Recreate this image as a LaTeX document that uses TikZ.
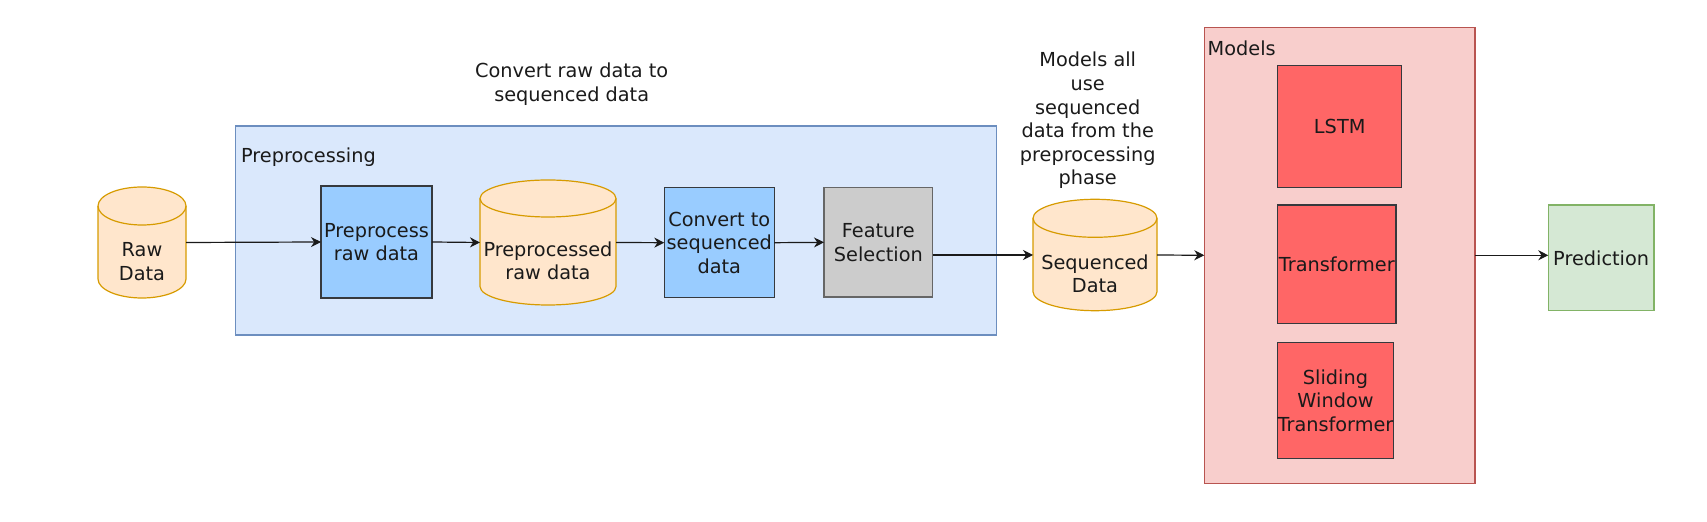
\documentclass[tikz,border=0pt]{standalone}
\usepackage{fontspec}
\setmainfont{DejaVu Sans}
\usetikzlibrary{arrows.meta}
\definecolor{preF}{HTML}{DAE8FC}
\definecolor{preD}{HTML}{6C8EBF}
\definecolor{cylF}{HTML}{FFE6CC}
\definecolor{cylD}{HTML}{D79B00}
\definecolor{blueF}{HTML}{99CCFF}
\definecolor{boxD}{HTML}{36393D}
\definecolor{grayF}{HTML}{CCCCCC}
\definecolor{grayD}{HTML}{666666}
\definecolor{modF}{HTML}{F8CECC}
\definecolor{modD}{HTML}{B85450}
\definecolor{redF}{HTML}{FF6666}
\definecolor{predF}{HTML}{D5E8D4}
\definecolor{predD}{HTML}{82B366}
\definecolor{txtc}{HTML}{1A1A1A}
\definecolor{arrc}{HTML}{1A1A1A}
\tikzset{
  base/.style={inner sep=0pt, outer sep=0pt, line width=0.55pt},
  txt/.style={align=center, text=txtc, font=\fontsize{9.65pt}{11.8pt}\selectfont, inner sep=0pt},
  cyl/.style={fill=cylF, draw=cylD, line width=0.6pt},
  arr/.style={-{Stealth[length=5pt,width=5pt,inset=1.6pt]}, line width=0.6pt, draw=arrc},
  bluebox/.style={base, fill=blueF, draw=boxD},
  graybox/.style={base, fill=grayF, draw=grayD},
  redbox/.style={base, fill=redF, draw=boxD},
  predbox/.style={base, fill=predF, draw=predD, line width=0.8pt},
  precont/.style={base, fill=preF, draw=preD},
  modcont/.style={base, fill=modF, draw=modD},
}
\newcommand{\pxrect}[6]{%
  \pgfmathsetmacro\bxc{(#2+#4)/2}%
  \pgfmathsetmacro\byc{(#3+#5)/2}%
  \pgfmathsetmacro\bw{(#4-#2)/2}%
  \pgfmathsetmacro\bh{(#5-#3)/2}%
  \node[#6, minimum width=\bw pt, minimum height=\bh pt] (#1) at (\bxc,\byc) {};%
}
\newcommand{\pxbox}[7]{%
  \pxrect{#1}{#2}{#3}{#4}{#5}{#6}%
  \node[txt] (#1-t) at (#1.center) {#7};%
}
\newcommand{\dbcyl}[7]{%
  \pgfmathsetmacro\cylrx{(#4-#2)/4}%
  \pgfmathsetmacro\cylry{#6/2}%
  \filldraw[cyl] (#2,#3+#6) -- (#2,#5-#6) arc[start angle=180,end angle=360,x radius=\cylrx pt,y radius=\cylry pt] -- (#4,#3+#6) arc[start angle=0,end angle=180,x radius=\cylrx pt,y radius=\cylry pt] -- cycle;%
  \draw[cyl, fill=none] (#2,#3+#6) arc[start angle=180,end angle=360,x radius=\cylrx pt,y radius=\cylry pt];%
  \pxrect{#1}{#2}{#3}{#4}{#5}{base,draw=none}%
  \pgfmathsetmacro\cylxc{(#2+#4)/2}%
  \pgfmathsetmacro\cylyc{(#3+2*#6+#5)/2}%
  \node[txt] (#1-t) at (\cylxc,\cylyc) {#7};%
}
\begin{document}
\begin{tikzpicture}[x=0.5pt,y=-0.5pt]
\useasboundingbox (0,0) rectangle (1707,522);
% containers
\pxrect{prep}{235.3}{126}{996.7}{335}{precont}
\node[txt, anchor=west] (prep-l) at (240.7,156.7) {Preprocessing};
\pxrect{models}{1204.3}{27.3}{1475}{483.3}{modcont}
\node[txt, anchor=west] (models-l) at (1207.3,48) {Models};
% annotations
\node[txt] (note1) at (571.7,84.2) {Convert raw data to\\sequenced data};
\node[txt] (note2) at (1087.7,120.5) {Models all\\use\\sequenced\\data from the\\preprocessing\\phase};
% cylinders
\dbcyl{raw}{98}{187}{186}{298}{19}{Raw\\Data}
\dbcyl{ppd}{480}{180}{616}{305}{18.5}{Preprocessed\\raw data}
\dbcyl{seq}{1033}{199.3}{1157}{310.7}{19}{Sequenced\\Data}
% boxes
\pxbox{pre}{321}{186}{432}{298}{bluebox}{Preprocess\\raw data}
\pxbox{conv}{664.3}{187.7}{774.3}{297.7}{bluebox}{Convert to\\sequenced\\data}
\pxbox{feat}{824}{187.7}{932.7}{297}{graybox}{Feature\\Selection}
\pxbox{lstm}{1277.7}{65.7}{1401.7}{187.7}{redbox}{LSTM}
\pxbox{trans}{1277.7}{205}{1396}{323.3}{redbox}{Transformer}
\pxbox{swt}{1277.7}{342.7}{1393.3}{458.3}{redbox}{Sliding\\Window\\Transformer}
\pxbox{pred}{1548.3}{205}{1654}{310.7}{predbox}{Prediction}
% connectors
\draw[arr] (raw.east) -- (pre.west);
\draw[arr] (pre.east) -- (ppd.west);
\draw[arr] (ppd.east) -- (conv.west);
\draw[arr] (conv.east) -- (feat.west);
\draw[arr] (feat.east |- seq.west) -- (seq.west);
\draw[arr] (seq.east) -- (models.west);
\draw[arr] (models.east) -- (models.east -| pred.west);
\end{tikzpicture}
\end{document}
